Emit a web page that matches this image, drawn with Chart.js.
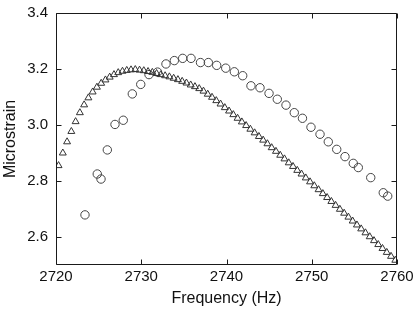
<!DOCTYPE html>
<html>
<head>
<meta charset="utf-8">
<script src="https://cdn.jsdelivr.net/npm/chart.js@4.4.0/dist/chart.umd.min.js"></script>
<style>
  html, body { margin: 0; padding: 0; background: #fff; }
  #wrap { width: 415px; height: 312px; }
</style>
</head>
<body>
<div id="wrap"><canvas id="strainChart" width="415" height="312"></canvas></div>
<script>
// Triangles: dense sweep
const freqTri = [
  2720.3, 2720.8, 2721.3, 2721.8, 2722.3, 2722.8, 2723.3, 2723.8, 2724.3, 2724.8,
  2725.3, 2725.8, 2726.3, 2726.8, 2727.3, 2727.8, 2728.3, 2728.8, 2729.3, 2729.8,
  2730.3, 2730.8, 2731.3, 2731.8, 2732.3, 2732.8, 2733.3, 2733.8, 2734.3, 2734.8,
  2735.3, 2735.8, 2736.3, 2736.8, 2737.3, 2737.8, 2738.3, 2738.8, 2739.3, 2739.8,
  2740.3, 2740.8, 2741.3, 2741.8, 2742.3, 2742.8, 2743.3, 2743.8, 2744.3, 2744.8,
  2745.3, 2745.8, 2746.3, 2746.8, 2747.3, 2747.8, 2748.3, 2748.8, 2749.3, 2749.8,
  2750.3, 2750.8, 2751.3, 2751.8, 2752.3, 2752.8, 2753.3, 2753.8, 2754.3, 2754.8,
  2755.3, 2755.8, 2756.3, 2756.8, 2757.3, 2757.8, 2758.3, 2758.8, 2759.3, 2759.8
];
const strainTri = [
  2.855, 2.900, 2.940, 2.977, 3.012, 3.044, 3.072, 3.097, 3.118, 3.135,
  3.149, 3.161, 3.171, 3.180, 3.187, 3.192, 3.195, 3.197, 3.198, 3.196,
  3.194, 3.191, 3.188, 3.184, 3.180, 3.176, 3.172, 3.167, 3.162, 3.156,
  3.150, 3.143, 3.137, 3.130, 3.121, 3.110, 3.099, 3.087, 3.075, 3.062,
  3.050, 3.037, 3.024, 3.011, 2.998, 2.985, 2.972, 2.959, 2.946, 2.933,
  2.919, 2.906, 2.892, 2.879, 2.865, 2.852, 2.838, 2.825, 2.811, 2.797,
  2.783, 2.769, 2.755, 2.741, 2.727, 2.713, 2.699, 2.685, 2.671, 2.657,
  2.643, 2.629, 2.615, 2.601, 2.587, 2.573, 2.559, 2.545, 2.531, 2.517
];

// Circles
const freqCirc = [
  2723.4, 2724.84, 2725.28, 2726.02, 2726.92, 2727.89, 2728.95, 2729.94, 2730.91, 2731.91,
  2732.9, 2733.88, 2734.86, 2735.84, 2736.95, 2737.87, 2738.85, 2739.91, 2740.92, 2741.9,
  2742.87, 2743.93, 2744.99, 2745.96, 2746.98, 2747.95, 2748.91, 2749.91, 2750.97, 2751.94,
  2752.93, 2753.9, 2754.87, 2755.46, 2756.92, 2758.39, 2758.91
];
const strainCirc = [
  2.679, 2.825, 2.807, 2.911, 3.002, 3.017, 3.111, 3.145, 3.180, 3.189,
  3.218, 3.230, 3.238, 3.238, 3.223, 3.223, 3.213, 3.203, 3.190, 3.176,
  3.140, 3.133, 3.113, 3.092, 3.071, 3.044, 3.024, 2.992, 2.967, 2.940,
  2.913, 2.887, 2.863, 2.848, 2.812, 2.758, 2.746
];

const xTicks = [2720, 2730, 2740, 2750, 2760];
const yTicks = [2.6, 2.8, 3.0, 3.2, 3.4];

function toPoints(xs, ys) {
  return xs.map((x, i) => ({ x: x, y: ys[i] }));
}

// frame + inward ticks on all four sides
const frameTicks = {
  id: 'frameTicks',
  afterDatasetsDraw(chart) {
    const { ctx, chartArea: a, scales } = chart;
    const len = 5;
    const l = Math.round(a.left) + 0.5, r = Math.round(a.right) - 0.5;
    const t = Math.round(a.top) + 0.5, b = Math.round(a.bottom) - 0.5;
    ctx.save();
    ctx.strokeStyle = '#1a1a1a';
    ctx.lineWidth = 1;
    ctx.beginPath();
    ctx.rect(l, t, r - l, b - t);
    xTicks.forEach(v => {
      const px = Math.round(scales.x.getPixelForValue(v)) + 0.5;
      ctx.moveTo(px, b); ctx.lineTo(px, b - len);
      ctx.moveTo(px, t); ctx.lineTo(px, t + len);
    });
    yTicks.forEach(v => {
      const py = Math.round(scales.y.getPixelForValue(v)) + 0.5;
      ctx.moveTo(l, py); ctx.lineTo(l + len, py);
      ctx.moveTo(r, py); ctx.lineTo(r - len, py);
    });
    ctx.stroke();
    ctx.restore();
  }
};

// invisible tick marks, only used to space the labels from the axis
const hiddenGrid = len => ({
  display: true,
  drawOnChartArea: false,
  drawTicks: true,
  tickLength: len,
  color: 'rgba(0,0,0,0)'
});

const ctx = document.getElementById('strainChart').getContext('2d');
new Chart(ctx, {
  type: 'scatter',
  data: {
    datasets: [{
      data: toPoints(freqTri, strainTri),
      pointStyle: 'triangle',
      pointRadius: 4,
      borderColor: '#333',
      backgroundColor: 'rgba(255,255,255,0)',
      borderWidth: 1
    }, {
      data: toPoints(freqCirc, strainCirc),
      pointStyle: 'circle',
      pointRadius: 4.2,
      borderColor: '#444',
      backgroundColor: 'rgba(255,255,255,0)',
      borderWidth: 1
    }]
  },
  options: {
    responsive: false,
    animation: false,
    devicePixelRatio: 1,
    layout: { padding: { top: 13, right: 18, left: 0, bottom: 0 } },
    plugins: {
      legend: { display: false },
      tooltip: { enabled: false }
    },
    scales: {
      x: {
        type: 'linear',
        min: 2720,
        max: 2760,
        afterBuildTicks: s => { s.ticks = xTicks.map(v => ({ value: v })); },
        afterFit: s => { s.height = 47; },
        grid: hiddenGrid(3),
        border: { display: false },
        ticks: {
          padding: 0,
          color: '#111',
          maxRotation: 0,
          font: { family: 'Liberation Sans', size: 15 },
          callback: v => String(v)
        },
        title: {
          display: true,
          text: 'Frequency (Hz)',
          color: '#111',
          padding: { top: 0, bottom: 4 },
          font: { family: 'Liberation Sans', size: 16 }
        }
      },
      y: {
        type: 'linear',
        min: 2.5,
        max: 3.4,
        afterBuildTicks: s => { s.ticks = yTicks.map(v => ({ value: v })); },
        afterFit: s => { s.width = 56; },
        grid: hiddenGrid(8),
        border: { display: false },
        ticks: {
          padding: 0,
          color: '#111',
          font: { family: 'Liberation Sans', size: 15 },
          callback: v => v.toFixed(1)
        },
        title: {
          display: true,
          text: 'Microstrain',
          color: '#111',
          padding: { top: 1, bottom: 0 },
          font: { family: 'Liberation Sans', size: 16 }
        }
      }
    }
  },
  plugins: [frameTicks]
});
</script>
</body>
</html>
